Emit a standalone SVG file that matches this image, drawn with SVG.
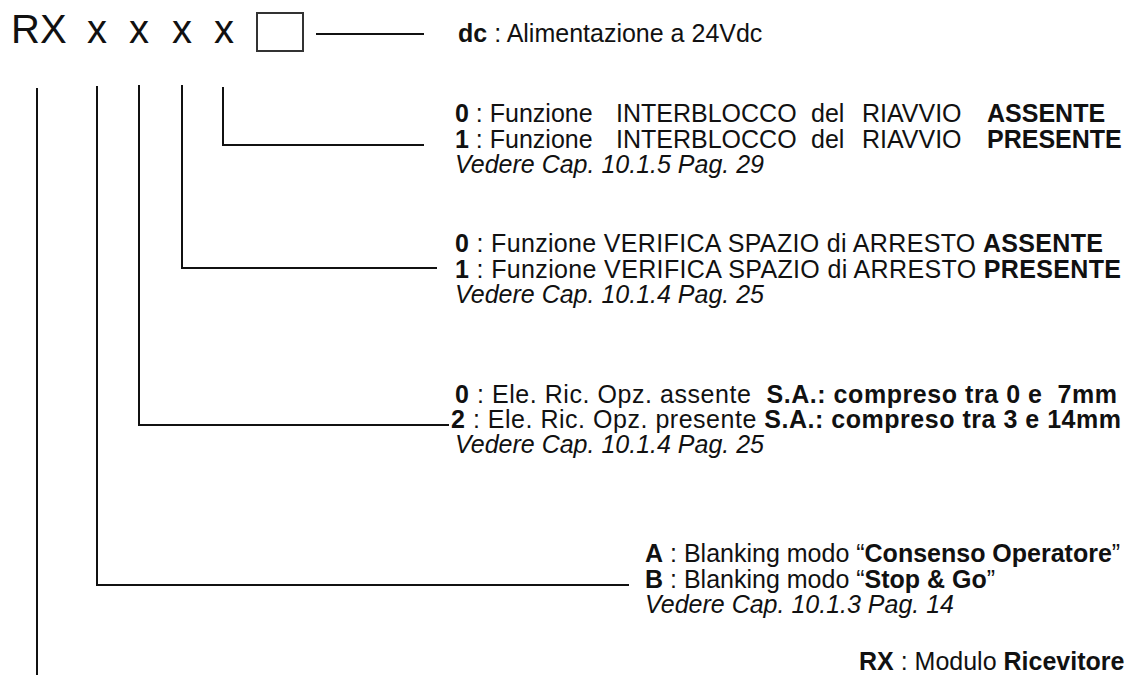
<svg xmlns="http://www.w3.org/2000/svg" width="1126" height="675" viewBox="0 0 1126 675">
<style>
text{font-family:"Liberation Sans",Arial,sans-serif;font-size:25px;fill:#111}
.big{font-size:40px}
.b{font-weight:bold}
.i{font-style:italic}
.ln{stroke:#111;stroke-width:2;fill:none}
</style>
<rect width="1126" height="675" fill="#fff"/>
<g id="code">
<text class="big" x="11" y="43">RX</text>
<text class="big" x="87" y="43">x</text>
<text class="big" x="129" y="43">x</text>
<text class="big" x="172" y="43">x</text>
<text class="big" x="214" y="43">x</text>
<rect x="257" y="13" width="46" height="38" fill="none" stroke="#333" stroke-width="2"/>
</g>
<g id="connectors" class="ln">
<path d="M316 34H424"/>
<path d="M223 87V145H424"/>
<path d="M182 85V268H437"/>
<path d="M139 85V425H449"/>
<path d="M97 86V585H629"/>
<path d="M37 88V675"/>
</g>
<g id="dc">
<text x="458" y="42"><tspan class="b">dc</tspan> : Alimentazione a 24Vdc</text>
</g>
<g id="interblocco">
<text y="122"><tspan x="455" class="b">0</tspan> : Funzione<tspan x="616">INTERBLOCCO</tspan><tspan x="811">del</tspan><tspan x="862">RIAVVIO</tspan><tspan x="987" class="b">ASSENTE</tspan></text>
<text y="148"><tspan x="455" class="b">1</tspan> : Funzione<tspan x="616">INTERBLOCCO</tspan><tspan x="811">del</tspan><tspan x="862">RIAVVIO</tspan><tspan x="987" class="b">PRESENTE</tspan></text>
<text class="i" x="455" y="173">Vedere Cap. 10.1.5 Pag. 29</text>
</g>
<g id="verifica">
<text x="455" y="252" textLength="648" lengthAdjust="spacing"><tspan class="b">0</tspan> : Funzione VERIFICA SPAZIO di ARRESTO <tspan class="b">ASSENTE</tspan></text>
<text x="455" y="278" textLength="666" lengthAdjust="spacing"><tspan class="b">1</tspan> : Funzione VERIFICA SPAZIO di ARRESTO <tspan class="b">PRESENTE</tspan></text>
<text class="i" x="455" y="303">Vedere Cap. 10.1.4 Pag. 25</text>
</g>
<g id="elemento">
<text x="455" y="403" xml:space="preserve" textLength="662" lengthAdjust="spacing"><tspan class="b">0</tspan> : Ele. Ric. Opz. assente  <tspan class="b">S.A.: compreso tra 0 e  7mm</tspan></text>
<text x="451" y="428" textLength="670" lengthAdjust="spacing"><tspan class="b">2</tspan> : Ele. Ric. Opz. presente <tspan class="b">S.A.: compreso tra 3 e 14mm</tspan></text>
<text class="i" x="455" y="453">Vedere Cap. 10.1.4 Pag. 25</text>
</g>
<g id="blanking">
<text x="645" y="562"><tspan class="b">A</tspan> : Blanking modo “<tspan class="b">Consenso Operatore</tspan>”</text>
<text x="645" y="588"><tspan class="b">B</tspan> : Blanking modo “<tspan class="b">Stop &amp; Go</tspan>”</text>
<text class="i" x="645" y="613">Vedere Cap. 10.1.3 Pag. 14</text>
</g>
<g id="rx">
<text x="859" y="670"><tspan class="b">RX</tspan> : Modulo <tspan class="b">Ricevitore</tspan></text>
</g>
</svg>
